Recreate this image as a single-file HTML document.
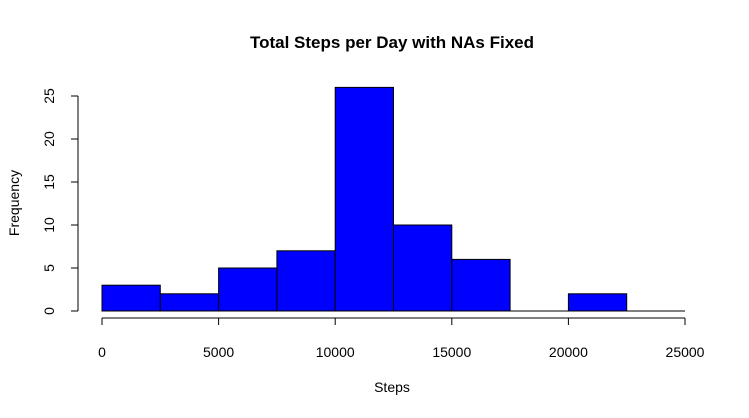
<!DOCTYPE html>
<html><head><meta charset="utf-8"><style>
html,body{margin:0;padding:0;background:#fff;}
svg{display:block;font-family:"Liberation Sans",Arial,sans-serif;}
</style></head><body>
<svg id="chart" width="749" height="418">
<rect width="749" height="418" fill="#fff"/>
<text x="392" y="48" text-anchor="middle" font-size="17" font-weight="bold">Total Steps per Day with NAs Fixed</text>
<text x="392" y="392" text-anchor="middle" font-size="14">Steps</text>
<text transform="translate(19,203) rotate(-90)" text-anchor="middle" font-size="14">Frequency</text>
<g id="bars"></g><g id="xaxis"></g><g id="yaxis"></g>
</svg>
<script>
const binStarts=[0,2500,5000,7500,10000,12500,15000,17500,20000,22500];
const counts=[3,2,5,7,26,10,6,0,2,0];
const xTicks=[0,5000,10000,15000,20000,25000];
const yTicks=[0,5,10,15,20,25];
const binWidth=2500;
const NS="http://www.w3.org/2000/svg";
const x=v=>102+v*(583/25000);
const y=v=>311-v*(215/25);
function mk(t,a,p){const e=document.createElementNS(NS,t);for(const k in a)e.setAttribute(k,a[k]);p.appendChild(e);return e;}
const bars=document.getElementById('bars');
binStarts.forEach((s,i)=>{
  let r;
  if(counts[i]>0){
    r=mk('rect',{x:x(s),y:y(counts[i]),width:x(s+binWidth)-x(s),height:y(0)-y(counts[i]),fill:'#0000ff',stroke:'#000','stroke-width':1},bars);
  } else {
    r=mk('line',{x1:x(s),x2:x(s+binWidth),y1:y(0),y2:y(0),stroke:'#000','stroke-width':1},bars);
  }
  
  
});
const xa=document.getElementById('xaxis');
const xl=mk('line',{x1:x(xTicks[0]),x2:x(xTicks[xTicks.length-1]),y1:318,y2:318,stroke:'#000'},xa);


xTicks.forEach(t=>{
  mk('line',{x1:x(t),x2:x(t),y1:318,y2:325,stroke:'#000'},xa);
  const tx=mk('text',{x:x(t),y:357,'text-anchor':'middle','font-size':14},xa);tx.textContent=t;
  
  
});
const ya=document.getElementById('yaxis');
const yl=mk('line',{x1:78,x2:78,y1:y(yTicks[0]),y2:y(yTicks[yTicks.length-1]),stroke:'#000'},ya);


yTicks.forEach(t=>{
  mk('line',{x1:71,x2:78,y1:y(t),y2:y(t),stroke:'#000'},ya);
  const tx=mk('text',{transform:`translate(54,${y(t)}) rotate(-90)`,'text-anchor':'middle','font-size':14},ya);tx.textContent=t;
  
  
});
</script>
</body></html>
